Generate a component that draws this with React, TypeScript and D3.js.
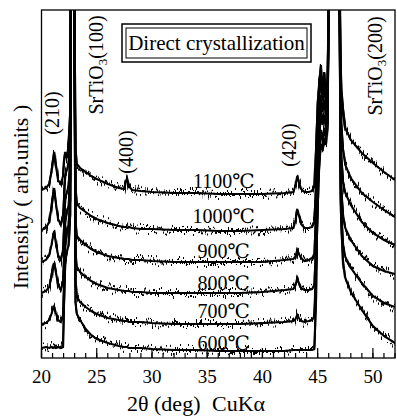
import React from 'react';
import * as d3 from 'd3';

// 2θ sampling positions (deg)
const twoTheta = [
  20.0, 20.4, 20.7, 20.9, 21.05, 21.15, 21.3, 21.5, 21.75, 21.95,
  22.05, 22.15, 22.3, 22.45, 22.6, 22.68, 22.95, 23.08, 23.2, 23.5,
  24, 24.5, 25, 26, 27, 27.5, 27.65, 27.75, 27.9, 28.2,
  29, 30, 32, 34, 36, 38, 40, 42, 42.8, 43.0,
  43.15, 43.3, 43.5, 43.8, 44.2, 44.5, 44.7, 44.85, 45.0, 45.15,
  45.3, 45.45, 45.6, 45.75, 45.9, 46.05, 46.95, 47.08, 47.15, 47.3,
  47.5, 48, 49, 50, 51, 52,
];

// intensities (arb. units, stacked); 420 = off scale (substrate peaks)
const i1100 = [
  168, 170, 174, 186, 198, 206, 193, 178, 174, 182,
  198, 206, 200, 213, 248, 420, 420, 208, 194, 190,
  186, 182, 179, 174, 170, 169, 177, 180, 172, 168,
  167, 166, 165, 165, 164, 164, 164, 165, 166, 173,
  182, 176, 169, 166, 166, 167, 172, 208, 253, 278,
  290, 268, 286, 263, 278, 420, 420, 298, 268, 248,
  230, 218, 205, 195, 186, 178,
];
const i1000 = [
  128, 130, 136, 150, 163, 170, 155, 139, 133, 143,
  163, 183, 188, 195, 218, 420, 420, 168, 154, 150,
  146, 142, 139, 135, 132, 131, 131, 130, 131, 130,
  129, 129, 128, 128, 127, 127, 128, 129, 130, 138,
  149, 143, 134, 130, 130, 131, 136, 173, 228, 263,
  280, 258, 273, 253, 268, 420, 420, 263, 233, 208,
  193, 180, 165, 156, 148, 141,
];
const i900 = [
  96, 98, 103, 113, 122, 126, 115, 103, 98, 108,
  133, 160, 166, 172, 198, 420, 420, 136, 122, 118,
  113, 109, 106, 102, 100, 99, 99, 99, 99, 98,
  98, 97, 96, 96, 96, 96, 96, 98, 99, 102,
  108, 104, 100, 97, 98, 100, 104, 143, 198, 240,
  263, 246, 258, 240, 258, 420, 420, 228, 198, 176,
  165, 153, 136, 125, 118, 113,
];
const i800 = [
  65, 67, 71, 82, 91, 95, 86, 73, 68, 76,
  103, 136, 146, 152, 178, 420, 420, 106, 91, 86,
  81, 77, 74, 70, 68, 67, 67, 67, 67, 66,
  66, 65, 65, 65, 65, 65, 66, 68, 69, 73,
  80, 75, 70, 68, 68, 69, 73, 113, 173, 220,
  248, 233, 243, 230, 248, 420, 420, 198, 168, 143,
  130, 118, 102, 92, 87, 84,
];
const i700 = [
  34, 35, 38, 44, 49, 51, 45, 38, 36, 43,
  73, 113, 126, 132, 158, 420, 420, 76, 61, 56,
  51, 47, 44, 40, 38, 37, 37, 37, 36, 36,
  36, 35, 34, 34, 34, 34, 35, 36, 37, 39,
  43, 40, 37, 36, 37, 38, 42, 88, 148, 198,
  228, 218, 230, 220, 240, 420, 420, 173, 143, 113,
  101, 90, 75, 62, 55, 51,
];
const i600 = [
  10, 11, 10, 11, 10, 11, 10, 11, 10, 11,
  58, 96, 106, 113, 143, 420, 420, 55, 44, 38,
  29, 23, 19, 15, 12, 11, 11, 11, 10, 10,
  10, 9, 8, 8, 7, 7, 7, 7, 8, 8,
  8, 8, 8, 8, 8, 8, 9, 58, 168, 198,
  213, 208, 220, 213, 233, 420, 420, 158, 128, 96,
  80, 66, 48, 32, 22, 15,
];

const seriesNames = ['1100℃', '1000℃', '900℃', '800℃', '700℃', '600℃'];
const seriesValues = [i1100, i1000, i900, i800, i700, i600];
const labelIntensity = [170, 135, 100, 68, 40, 8];

const majorTicks = [20, 25, 30, 35, 40, 45, 50];
const minorTicks = d3.range(20, 53, 1);

const peakLabels = [
  { text: '(210)', sub: '', rest: '', theta: 21.58, inten: 245 },
  { text: 'SrTiO', sub: '3', rest: '(100)', theta: 25.55, inten: 293 },
  { text: '(400)', sub: '', rest: '', theta: 28.27, inten: 206 },
  { text: '(420)', sub: '', rest: '', theta: 43.04, inten: 213 },
  { text: 'SrTiO', sub: '3', rest: '(200)', theta: 50.81, inten: 292 },
];

const FONT = "Liberation Serif, Times New Roman, DejaVu Serif, serif";

export default function App() {
  const W = 397;
  const H = 418;
  const x = d3.scaleLinear().domain([20, 52]).range([41.5, 395]);
  const y = d3.scaleLinear().domain([0, 348]).range([358, 10]);
  const line = d3
    .line<number>()
    .x((_, i) => x(twoTheta[i]))
    .y((d) => y(d));

  const left = x(20);
  const right = x(52);
  const top = y(348);
  const bottom = y(0);

  return (
    <svg
      width={W}
      height={H}
      style={{ position: 'absolute', left: 0, top: 0, background: '#fff', fontFamily: FONT }}
    >
      <defs>
        <clipPath id="plotClip">
          <rect x={left} y={top} width={right - left} height={bottom - top} />
        </clipPath>
        <filter id="grain" x="-2%" y="-5%" width="104%" height="110%" colorInterpolationFilters="sRGB">
          <feTurbulence type="fractalNoise" baseFrequency="1.4 0.04" numOctaves={2} seed={7} result="t" />
          <feColorMatrix
            in="t"
            type="matrix"
            values="0 0 0 0 0.5  0 2 0 0 -0.5  0 0 0 0 0  0 0 0 0 1"
            result="m"
          />
          <feDisplacementMap in="SourceGraphic" in2="m" scale={10} xChannelSelector="R" yChannelSelector="G" />
        </filter>
      </defs>

      <g clipPath="url(#plotClip)">
        {seriesValues.map((vals, k) => (
          <path key={'c' + k} d={line(vals) || ''} fill="none" stroke="#000" strokeWidth={2.1} />
        ))}
        <g filter="url(#grain)">
          {seriesValues.map((vals, k) => (
            <path key={'n' + k} d={line(vals) || ''} fill="none" stroke="#000" strokeWidth={2} />
          ))}
        </g>
      </g>

      {/* frame */}
      <rect x={left} y={top} width={right - left} height={bottom - top} fill="none" stroke="#000" strokeWidth={1.3} />

      {/* ticks */}
      {minorTicks.map((t) => (
        <line key={'m' + t} x1={x(t)} x2={x(t)} y1={bottom} y2={bottom - 5} stroke="#000" strokeWidth={1.2} />
      ))}
      {majorTicks.map((t) => (
        <line key={'M' + t} x1={x(t)} x2={x(t)} y1={bottom} y2={bottom - 10} stroke="#000" strokeWidth={1.2} />
      ))}
      {majorTicks.map((t) => (
        <text key={'l' + t} x={x(t)} y={383} fontSize={19} textAnchor="middle" fill="#000" fontFamily={FONT}>
          {t}
        </text>
      ))}

      {/* axis titles */}
      <text y={411} fontSize={22} fill="#000" fontFamily={FONT}>
        <tspan x={127}>2θ (deg)</tspan>
        <tspan x={212}>CuKα</tspan>
      </text>
      <text transform="translate(28,197) rotate(-90)" fontSize={22} textAnchor="middle" fill="#000" fontFamily={FONT}>
        Intensity ( arb.units )
      </text>

      {/* temperature labels */}
      {seriesNames.map((n, k) => (
        <text key={'t' + k} x={x(36.5)} y={y(labelIntensity[k])} fontSize={20} textAnchor="middle" fill="#000" fontFamily={FONT}>
          {n}
        </text>
      ))}

      {/* peak labels */}
      {peakLabels.map((p, k) => (
        <text
          key={'p' + k}
          transform={`translate(${x(p.theta)},${y(p.inten)}) rotate(-90)`}
          fontSize={20}
          textAnchor="middle"
          fill="#000"
          fontFamily={FONT}
        >
          {p.text}
          {p.sub && (
            <tspan fontSize={13} dy={4}>
              {p.sub}
            </tspan>
          )}
          {p.rest && <tspan dy={-4}>{p.rest}</tspan>}
        </text>
      ))}

      {/* legend box */}
      <rect x={122} y={24} width={189} height={38} fill="#fff" stroke="#000" strokeWidth={1.5} />
      <rect x={126} y={28} width={181} height={30} fill="none" stroke="#000" strokeWidth={1} />
      <text x={216.5} y={50} fontSize={21} textAnchor="middle" fill="#000" fontFamily={FONT}>
        Direct crystallization
      </text>
    </svg>
  );
}
